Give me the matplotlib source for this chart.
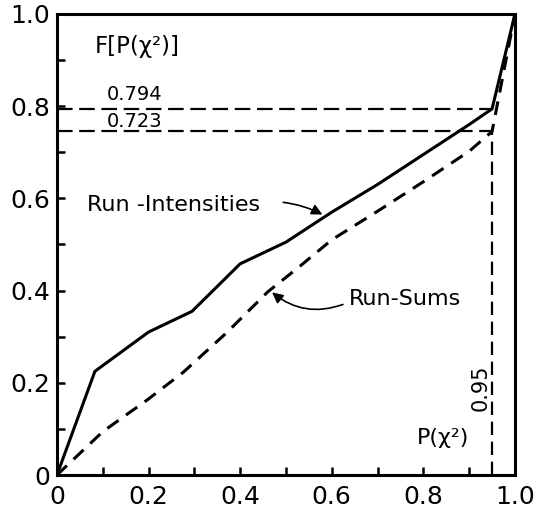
import matplotlib
matplotlib.use("Agg")
from matplotlib import pyplot as plt

# curve data
p_intens = [0, 0.083, 0.2, 0.295, 0.4, 0.5, 0.6, 0.7, 0.8, 0.9, 0.95, 1.0]
f_intens = [0, 0.225, 0.31, 0.355, 0.458, 0.505, 0.57, 0.63, 0.695, 0.76, 0.794, 1.0]

p_sums = [0, 0.1, 0.2, 0.276, 0.372, 0.46, 0.532, 0.6, 0.7, 0.8, 0.9, 0.95, 1.0]
f_sums = [0, 0.094, 0.165, 0.223, 0.31, 0.397, 0.454, 0.51, 0.572, 0.636, 0.702, 0.745, 1.0]

p_cut = 0.95
f_cut_intens = 0.794
f_cut_sums = 0.745
cut_labels = ["0.794", "0.723"]

major_ticks = [0, 0.2, 0.4, 0.6, 0.8, 1.0]
major_labels = ["0", "0.2", "0.4", "0.6", "0.8", "1.0"]
minor_ticks = [0.1, 0.3, 0.5, 0.7, 0.9]

plt.rcParams['font.family'] = ['DejaVu Sans']

fig = plt.figure(figsize=(5.37, 5.13), dpi=100)
ax = fig.add_axes([0.106, 0.074, 0.853, 0.899])

ax.plot(p_intens, f_intens, color="black", lw=2.2, solid_joinstyle="miter")
ax.plot(p_sums, f_sums, color="black", lw=2.2, linestyle=(0, (4.5, 3)))

# reference lines at P = 0.95
ax.plot([0, p_cut], [f_cut_intens, f_cut_intens], color="black", lw=1.6, linestyle=(0, (7, 3)))
ax.plot([0, p_cut], [f_cut_sums, f_cut_sums], color="black", lw=1.6, linestyle=(0, (7, 3)))
ax.plot([p_cut, p_cut], [0, f_cut_sums], color="black", lw=1.6, linestyle=(0, (6, 3)))

ax.set_xlim(0, 1)
ax.set_ylim(0, 1)
ax.set_xticks(major_ticks)
ax.set_xticklabels(major_labels)
ax.set_yticks(major_ticks)
ax.set_yticklabels(major_labels)
ax.set_xticks(minor_ticks, minor=True)
ax.set_yticks(minor_ticks, minor=True)
ax.tick_params(which="both", direction="in", length=6, width=1.8, labelsize=18)
ax.tick_params(axis="x", pad=7)
ax.tick_params(axis="y", pad=5)
for s in ax.spines.values():
    s.set_linewidth(2.2)

ax.text(0.083, 0.93, "F[P(χ²)]", fontsize=16.5, va="center", ha="left")
ax.text(0.17, 0.826, cut_labels[0], fontsize=14, ha="center", va="center")
ax.text(0.17, 0.766, cut_labels[1], fontsize=14, ha="center", va="center")

ax.text(0.066, 0.585, "Run -Intensities", fontsize=16, ha="left", va="center")
ax.annotate("", xy=(0.585, 0.562), xytext=(0.488, 0.592),
            arrowprops=dict(arrowstyle="-|>", color="black", lw=1.2,
                            mutation_scale=16, connectionstyle="arc3,rad=-0.1"))

ax.text(0.637, 0.382, "Run-Sums", fontsize=16, ha="left", va="center")
ax.annotate("", xy=(0.465, 0.4), xytext=(0.63, 0.372),
            arrowprops=dict(arrowstyle="-|>", color="black", lw=1.2,
                            mutation_scale=16, connectionstyle="arc3,rad=-0.3"))

ax.text(0.926, 0.19, "0.95", fontsize=15, rotation=90, ha="center", va="center")
ax.text(0.843, 0.08, "P(χ²)", fontsize=16, ha="center", va="center")

fig.savefig("out.png", dpi=100)
